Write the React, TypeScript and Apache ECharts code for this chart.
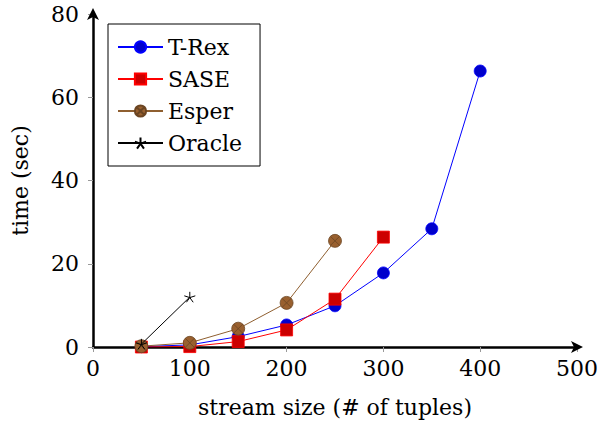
import React, { useEffect, useRef } from "react";
import * as echarts from "echarts";

const xTicks = [0, 100, 200, 300, 400, 500];
const yTicks = [0, 20, 40, 60, 80];

const trexX = [50, 100, 150, 200, 250, 300, 350, 400];
const trexY = [0.1, 0.5, 2.5, 5.3, 9.9, 17.8, 28.4, 66.3];
const saseX = [50, 100, 150, 200, 250, 300];
const saseY = [0.0, 0.1, 1.3, 4.1, 11.5, 26.4];
const esperX = [50, 100, 150, 200, 250];
const esperY = [0.2, 1.0, 4.4, 10.6, 25.5];
const oracleX = [50, 100];
const oracleY = [0.7, 12.0];

const seriesNames = ["T-Rex", "SASE", "Esper", "Oracle"];

const zip = (xs: number[], ys: number[]) => xs.map((x, i) => [x, ys[i]]);

const OTIMES =
  "path://M0,10 A10,10 0 1,0 20,10 A10,10 0 1,0 0,10 Z M2.93,2.93 L17.07,17.07 M2.93,17.07 L17.07,2.93";
const STAR =
  "path://M10,10 L10,0 M10,10 L19.51,6.91 M10,10 L15.88,18.09 M10,10 L4.12,18.09 M10,10 L0.49,6.91";

const FONT = "DejaVu Serif";
const FS = 22;

export default function App() {
  const ref = useRef<HTMLDivElement>(null);
  useEffect(() => {
    if (!ref.current) return;
    const chart = echarts.init(ref.current, null, { renderer: "svg" });
    chart.setOption({
      animation: false,
      textStyle: { fontFamily: FONT },
      grid: { left: 93, right: 23, top: 14, bottom: 79, containLabel: false, outerBoundsMode: "none" },
      legend: {
        orient: "vertical",
        left: 108,
        top: 24,
        data: seriesNames,
        backgroundColor: "#fff",
        borderColor: "#000",
        borderWidth: 1,
        padding: [12, 18, 12, 9],
        itemGap: 10,
        itemWidth: 45,
        itemHeight: 14,
        textStyle: { fontFamily: FONT, fontSize: FS, color: "#000" },
      },
      xAxis: {
        type: "value",
        min: 0,
        max: 500,
        interval: 100,
        name: "stream size (# of tuples)",
        nameLocation: "middle",
        nameGap: 49,
        nameTextStyle: { fontFamily: FONT, fontSize: FS, color: "#000" },
        splitLine: { show: false },
        axisLine: {
          onZero: false,
          lineStyle: { color: "#000", width: 2.5 },
          symbol: ["none", "arrow"],
          symbolSize: [9, 12],
          symbolOffset: [0, 6],
        },
        axisTick: { show: true, length: 5, inside: false, lineStyle: { color: "#999" } },
        axisLabel: { fontFamily: FONT, fontSize: FS, color: "#000", margin: 10, formatter: (v: number) => (xTicks.includes(v) ? String(v) : "") },
      },
      yAxis: {
        type: "value",
        min: 0,
        max: 80,
        interval: 20,
        name: "time (sec)",
        nameLocation: "middle",
        nameGap: 62,
        nameTextStyle: { fontFamily: FONT, fontSize: FS, color: "#000" },
        splitLine: { show: false },
        axisLine: {
          onZero: false,
          lineStyle: { color: "#000", width: 2.5 },
          symbol: ["none", "arrow"],
          symbolSize: [9, 12],
          symbolOffset: [0, 6],
        },
        axisTick: { show: true, length: 5, lineStyle: { color: "#999" } },
        axisLabel: { fontFamily: FONT, fontSize: FS, color: "#000", margin: 14, formatter: (v: number) => (yTicks.includes(v) ? String(v) : "") },
      },
      series: [
        {
          name: "T-Rex",
          type: "line",
          data: zip(trexX, trexY),
          symbol: "circle",
          symbolSize: 12,
          lineStyle: { color: "#0000ff", width: 1 },
          itemStyle: { color: "#0000cc", borderColor: "#0000ff", borderWidth: 0.8 },
          z: 2,
        },
        {
          name: "SASE",
          type: "line",
          data: zip(saseX, saseY),
          symbol: "rect",
          symbolSize: 12,
          lineStyle: { color: "#ff0000", width: 1 },
          itemStyle: { color: "#cc0000", borderColor: "#ff0000", borderWidth: 0.8 },
          z: 3,
        },
        {
          name: "Esper",
          type: "line",
          data: zip(esperX, esperY),
          symbol: OTIMES,
          symbolKeepAspect: true,
          symbolSize: 13,
          lineStyle: { color: "#8f5f30", width: 1 },
          itemStyle: { color: "#99602f", borderColor: "#6b4522", borderWidth: 0.8 },
          z: 4,
        },
        {
          name: "Oracle",
          type: "line",
          data: zip(oracleX, oracleY),
          symbol: STAR,
          symbolKeepAspect: true,
          symbolSize: 11,
          lineStyle: { color: "#000", width: 1 },
          itemStyle: { color: "#000", borderColor: "#000", borderWidth: 1 },
          z: 5,
        },
      ],
    });
    return () => chart.dispose();
  }, []);
  return (
    <div
      ref={ref}
      style={{ position: "absolute", left: 0, top: 0, width: 600, height: 426 }}
    />
  );
}
